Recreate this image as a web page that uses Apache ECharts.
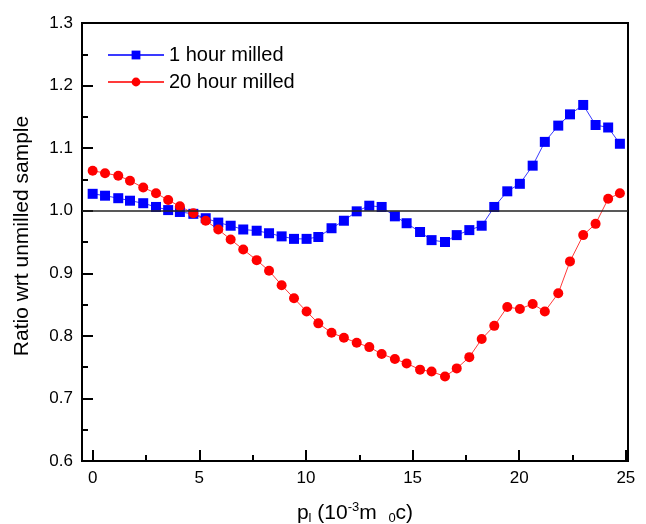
<!DOCTYPE html>
<html><head><meta charset="utf-8">
<script src="https://cdn.jsdelivr.net/npm/echarts@6/dist/echarts.min.js"></script>
<style>html,body{margin:0;padding:0;background:#fff}#c{width:646px;height:524px}</style>
</head><body><div id="c"></div>
<script>
// momentum p_L (10^-3 m0 c)
const momentum = [0, 0.58, 1.20, 1.75, 2.37, 2.97, 3.54, 4.09, 4.72, 5.30, 5.89, 6.47, 7.06, 7.69, 8.27, 8.86, 9.44, 10.03, 10.58, 11.20, 11.78, 12.38, 12.97, 13.55, 14.17, 14.72, 15.35, 15.89, 16.52, 17.07, 17.66, 18.24, 18.83, 19.44, 20.03, 20.63, 21.20, 21.83, 22.38, 23.00, 23.58, 24.17, 24.72];
const oneHour = [1.027, 1.024, 1.020, 1.016, 1.012, 1.006, 1.001, 0.998, 0.995, 0.988, 0.981, 0.976, 0.970, 0.968, 0.964, 0.959, 0.955, 0.955, 0.958, 0.972, 0.984, 0.999, 1.008, 1.006, 0.991, 0.980, 0.966, 0.953, 0.950, 0.961, 0.969, 0.976, 1.006, 1.031, 1.043, 1.072, 1.110, 1.136, 1.154, 1.169, 1.137, 1.133, 1.107];
const twentyHour = [1.064, 1.060, 1.056, 1.048, 1.037, 1.028, 1.017, 1.007, 0.996, 0.984, 0.970, 0.954, 0.938, 0.921, 0.904, 0.881, 0.860, 0.839, 0.820, 0.805, 0.797, 0.789, 0.782, 0.771, 0.763, 0.756, 0.746, 0.743, 0.735, 0.748, 0.766, 0.795, 0.816, 0.846, 0.843, 0.851, 0.839, 0.868, 0.919, 0.961, 0.979, 1.019, 1.028];
const seriesNames = ['1 hour milled', '20 hour milled'];
const xMajorTicks = [0, 5, 10, 15, 20, 25];
const xMinorTicks = [2.5, 7.5, 12.5, 17.5, 22.5];
const yRange = [0.6, 1.3];
const yStep = 0.1;
const refLevel = 1.0;

const FONT = '"Liberation Sans", Arial, sans-serif';
const chart = echarts.init(document.getElementById('c'), null, {renderer: 'canvas'});
const pairs = vals => momentum.map((x, i) => [x, vals[i]]);

chart.setOption({
  animation: false,
  backgroundColor: '#fff',
  grid: {left: 82, right: 18, top: 23, bottom: 63, show: true, borderColor: '#000', borderWidth: 2, backgroundColor: 'transparent', containLabel: false, outerBoundsMode: 'none'},
  legend: {
    data: seriesNames, orient: 'vertical', left: 107, top: 45,
    itemWidth: 56, itemHeight: 11, itemGap: 7, padding: 0,
    textStyle: {fontSize: 20, color: '#000', fontFamily: FONT}
  },
  xAxis: [{
    type: 'value', min: -0.5, max: 25.1, position: 'bottom',
    axisLine: {show: true, onZero: false, lineStyle: {color: '#000', width: 2}},
    axisTick: {show: true, inside: true, length: 11, customValues: xMajorTicks, lineStyle: {color: '#000', width: 2}},
    axisLabel: {customValues: xMajorTicks, fontSize: 17, color: '#000', margin: 9, fontFamily: FONT},
    splitLine: {show: false},
    name: '{n|p}{sub|l}{n| (10}{sup|-3}{n|m  }{sub|0}{n|c)}',
    nameLocation: 'middle', nameGap: 40,
    nameTextStyle: {
      fontFamily: FONT, color: '#000',
      rich: {
        n: {fontSize: 21, fontFamily: FONT, color: '#000', lineHeight: 24, verticalAlign: 'middle'},
        sub: {fontSize: 13, fontFamily: FONT, color: '#000', lineHeight: 24, verticalAlign: 'bottom'},
        sup: {fontSize: 13, fontFamily: FONT, color: '#000', lineHeight: 24, verticalAlign: 'top'}
      }
    }
  }, {
    type: 'value', min: -0.5, max: 25.1, position: 'bottom',
    axisLine: {show: false, onZero: false},
    axisTick: {show: true, inside: true, length: 6, customValues: xMinorTicks, lineStyle: {color: '#000', width: 2}},
    axisLabel: {show: false},
    splitLine: {show: false}
  }],
  yAxis: {
    type: 'value', min: yRange[0], max: yRange[1], interval: yStep,
    axisLine: {show: true, onZero: false, lineStyle: {color: '#000', width: 2}},
    axisTick: {show: true, inside: true, length: 11, lineStyle: {color: '#000', width: 2}},
    minorTick: {show: true, splitNumber: 2, length: 6, lineStyle: {color: '#000', width: 2}},
    axisLabel: {fontSize: 17, color: '#000', margin: 9, fontFamily: FONT, formatter: v => v.toFixed(1)},
    splitLine: {show: false},
    name: 'Ratio wrt unmilled sample', nameLocation: 'middle', nameGap: 49,
    nameTextStyle: {fontSize: 21, color: '#000', fontFamily: FONT, padding: [0, 0, 0, 12]}
  },
  series: [{
    name: seriesNames[0], type: 'line', xAxisIndex: 0, data: pairs(oneHour),
    symbol: 'rect', symbolSize: 10,
    itemStyle: {color: '#0000ff'}, lineStyle: {color: '#3a3aff', width: 1},
    z: 3,
    markLine: {
      silent: true, symbol: 'none', label: {show: false},
      lineStyle: {color: '#222', width: 1.5, type: 'solid'},
      data: [{yAxis: refLevel}]
    }
  }, {
    name: seriesNames[1], type: 'line', xAxisIndex: 0, data: pairs(twentyHour),
    symbol: 'circle', symbolSize: 10,
    itemStyle: {color: '#ff0000'}, lineStyle: {color: '#ff3a3a', width: 1},
    z: 3
  }]
});
</script></body></html>
